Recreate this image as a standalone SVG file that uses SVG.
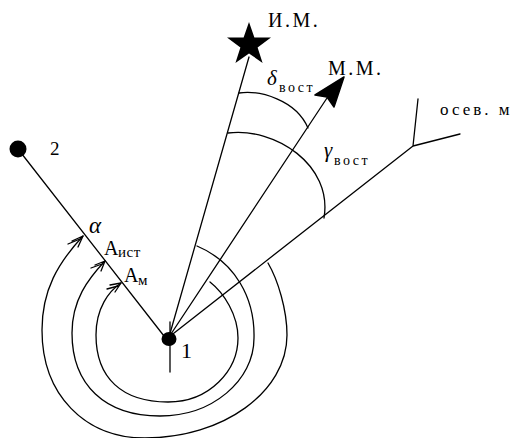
<svg xmlns="http://www.w3.org/2000/svg" width="515" height="438" viewBox="0 0 515 438">
<style>
.ln{stroke:#000;stroke-width:1.3;fill:none;stroke-linecap:round;stroke-linejoin:round}
.t{font-family:'Liberation Serif','Times New Roman','DejaVu Serif',serif;fill:#000}
.it{font-style:italic}
</style>
<rect width="515" height="438" fill="#fff"/>
<g id="connectors">
  <path class="ln" d="M18,149 L164,336"/>
  <path class="ln" d="M169,337 L249,57"/>
  <path class="ln" d="M169,337 L327,98"/>
  <path class="ln" d="M169,337 L413,146 L418,99 M413,146 L460,134"/>
  <path class="ln" d="M170,322 L170,372"/>
</g>
<g id="arcs">
  <path id="arc-alpha" class="ln" d="M83,236 C58,263 42,290 42,330 C42,395 85,438 145,438 C223,438 287,392 287,335 C287,310 278,280 268,263"/>
  <path id="arc-aist" class="ln" d="M105,261 C88,279 72,300 72,333 C72,385 105,416 160,416 C212,416 254,381 254,338 C255,298 235,262 197,246"/>
  <path id="arc-am" class="ln" d="M121,283 C109,291 96,308 96,335 C96,378 122,402 168,402 C210,402 238,370 238,338 C238,315 224,293 210,282"/>
  <path id="arc-delta" class="ln" d="M239,93 C260,90 296,100 308,128"/>
  <path id="arc-gamma" class="ln" d="M228,133 C275,127 333,165 324,218"/>
  <path class="ln" d="M72,241 L83,236 L78,247 M68,244 L80,239"/>
  <path class="ln" d="M95,265 L105,261 L101,271 M91,268 L102,264"/>
  <path class="ln" d="M110,285 L121,283 L115,292 M107,289 L118,286"/>
</g>
<g id="node-im">
  <polygon points="249,22 254.4,37.6 271,37.6 257.6,47.4 262.6,63 249,53.4 235.4,63 240.4,47.4 227,37.6 243.6,37.6" fill="#000"/>
  <text class="t" font-family="Liberation Serif, serif" x="268" y="27" font-size="20" letter-spacing="2.5">И.М.</text>
</g>
<g id="node-mm">
  <polygon points="344,77 315,95 327,97 334,107" fill="#000" stroke="#000" stroke-width="1.5" stroke-linejoin="round"/>
  <text class="t" font-family="Liberation Serif, serif" x="328" y="75" font-size="20" letter-spacing="2.5">М.М.</text>
</g>
<g id="node-osev">
  <text class="t" font-family="Liberation Serif, serif" x="440" y="115" font-size="17" letter-spacing="3">осев. м</text>
</g>
<g id="node-2">
  <circle cx="18" cy="149" r="8.5" fill="#000"/>
  <text class="t" font-family="Liberation Serif, serif" x="50" y="155" font-size="19">2</text>
</g>
<g id="node-1">
  <ellipse cx="169" cy="339" rx="7.5" ry="7" fill="#000"/>
  <text class="t" font-family="Liberation Serif, serif" x="181" y="358" font-size="22">1</text>
</g>
<g id="labels">
  <text class="t it" font-family="Liberation Serif, serif" x="267" y="85" font-size="21">δ</text>
  <text class="t" font-family="Liberation Serif, serif" x="279" y="92" font-size="14" letter-spacing="2.5">вост</text>
  <text class="t it" font-family="Liberation Serif, serif" x="324" y="157" font-size="21">γ</text>
  <text class="t" font-family="Liberation Serif, serif" x="334" y="165" font-size="14" letter-spacing="2.5">вост</text>
  <text class="t it" font-family="Liberation Serif, serif" x="89" y="233" font-size="23">α</text>
  <text class="t" font-family="Liberation Serif, serif" x="104" y="255" font-size="20">А</text>
  <text class="t" font-family="Liberation Serif, serif" x="118" y="257" font-size="15" letter-spacing="0.5">ист</text>
  <text class="t" font-family="Liberation Serif, serif" x="124" y="282" font-size="20">А</text>
  <text class="t" font-family="Liberation Serif, serif" x="138" y="285" font-size="15">м</text>
</g>
</svg>
